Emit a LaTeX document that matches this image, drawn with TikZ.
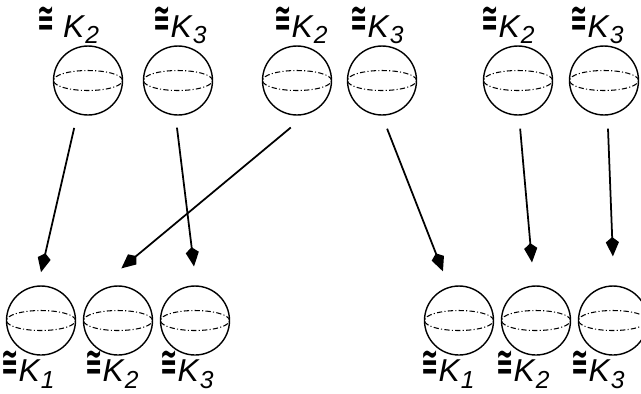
\documentclass[tikz,border=0pt]{standalone}
\usepackage{graphicx}
\usepackage{fontspec}
\setmainfont{Liberation Sans}
\newfontfamily\symfont{DejaVu Sans}
\usetikzlibrary{arrows.meta, calc, positioning}
\newcommand{\iso}{\raisebox{0.35ex}{\scalebox{0.65}[1.25]{\symfont\bfseries ≅}}}
\newcommand{\Kgrp}[1]{\textit{K}\raisebox{-0.4ex}{\fontsize{14}{14}\selectfont\itshape #1}}
\tikzset{
  sphere/.style={
    circle, draw=black, line width=0.8pt,
    minimum size=1.38cm, inner sep=0pt,
    path picture={\draw[eqline] (path picture bounding box.center)
      ellipse (0.69cm and 0.2cm);},
  },
  eqline/.style={
    line width=0.6pt,
    dash pattern=on 3pt off 1.3pt on 0.6pt off 1.3pt,
  },
  grp/.style={
    font=\fontsize{18}{20}\selectfont, inner sep=1pt,
  },
  arr/.style={
    -{Kite[length=11pt,width=7.5pt,inset=3pt]},
    line width=1pt,
  },
}
\begin{document}
\begin{tikzpicture}[x=0.02cm,y=-0.02cm]
  \clip (0,0) rectangle (641,393);
  % upper row
  \foreach \nm/\xi in {t1/88, t2/178, t3/297, t4/382, t5/518, t6/604}{
    \node[sphere] (\nm) at (\xi,80.5) {};
  }
  % lower row
  \foreach \nm/\xi in {b1/41, b2/118, b3/195, b4/459, b5/536, b6/613}{
    \node[sphere] (\nm) at (\xi,320.5) {};
  }
  \foreach \nm/\dx/\txt in {
      t1/-20/{\iso\ \Kgrp{2}}, t2/2/{\iso\Kgrp{3}}, t3/4/{\iso\Kgrp{2}},
      t4/-5/{\iso\Kgrp{3}}, t5/-10/{\iso\Kgrp{2}}, t6/-7/{\iso\Kgrp{3}}}{
    \node[grp] (l\nm) at ($(\nm.north)+(\dx,-20)$) {\txt};
  }
  \foreach \nm/\dx/\txt in {
      b1/-13/{\iso\Kgrp{1}}, b2/-6/{\iso\Kgrp{2}}, b3/-8/{\iso\Kgrp{3}},
      b4/-11/{\iso\Kgrp{1}}, b5/-13/{\iso\Kgrp{2}}, b6/-15/{\iso\Kgrp{3}}}{
    \node[grp] (l\nm) at ($(\nm.south)+(\dx,14)$) {\txt};
  }
  \foreach \s/\sx/\e/\ex/\a/\b in {
      t1/-11/b1/-3/0.25/0.27, t2/-2.5/b3/1.3/0.24/0.38,
      t3/8/b2/-17/0.37/0.53, t4/0/b4/-10.6/0.28/0.3,
      t5/1/b5/-2/0.26/0.46, t6/3.5/b6/1/0.26/0.58}{
    \draw[arr, shorten <=\a cm, shorten >=\b cm]
      ($(\s.south)+(\sx,0)$) -- ($(\e.north)+(\ex,0)$);
  }
\end{tikzpicture}
\end{document}
